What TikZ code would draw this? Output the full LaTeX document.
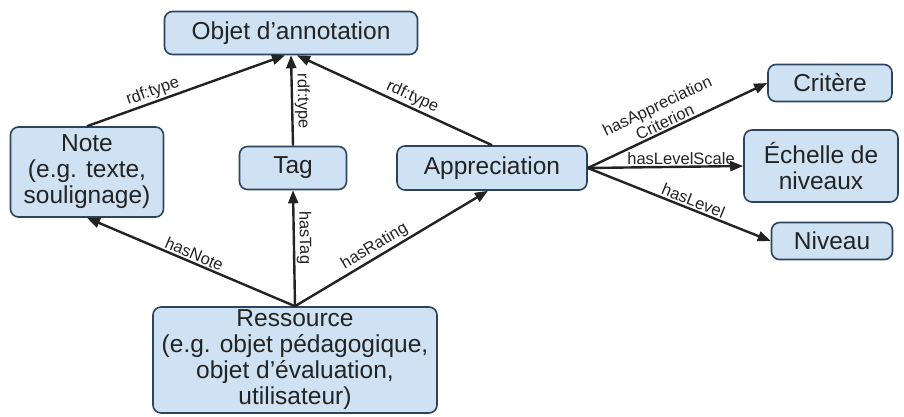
\documentclass[tikz,border=0pt]{standalone}
\usepackage{fontspec}
\setmainfont{Liberation Sans}
\usetikzlibrary{arrows.meta, positioning}
\definecolor{boxfill}{RGB}{207,226,243}
\definecolor{boxline}{RGB}{44,68,94}
\definecolor{txt}{RGB}{35,35,35}
\tikzset{
  box/.style={rectangle, draw=boxline, line width=1.6pt, rounded corners=8pt,
    fill=boxfill, align=center, text=txt, font=\fontsize{24.5}{26}\selectfont, inner sep=1pt},
  lbl/.style={font=\fontsize{16.5}{18}\selectfont, text=txt, inner sep=1.5pt, align=center},
  arr/.style={-{Triangle[length=13pt, width=10pt]}, line width=2.4pt, draw=txt},
}

\begin{document}
\begin{tikzpicture}[x=1pt, y=-1pt]
  \useasboundingbox (0,0) rectangle (904,416);

  \node[box, minimum width=253pt, minimum height=43pt] (objet) at (291,33) {Objet d’annotation};
  \node[box, minimum width=153pt, minimum height=90pt] (note) at (87,172) {Note\\(e.g. texte,\\soulignage)};
  \node[box, minimum width=107pt, minimum height=43pt] (tag) at (293,168) {Tag};
  \node[box, minimum width=190pt, minimum height=44pt] (appr) at (492,168) {Appreciation};
  \node[box, minimum width=284pt, minimum height=106pt] (res) at (295,360) {Ressource\\(e.g. objet pédagogique,\\objet d’évaluation,\\utilisateur)};
  \node[box, minimum width=124pt, minimum height=37pt] (crit) at (830,83) {Critère};
  \node[box, minimum width=154pt, minimum height=72pt] (echelle) at (821,166) {Échelle de\\niveaux};
  \node[box, minimum width=121pt, minimum height=37pt] (niveau) at (832,241) {Niveau};

  % rdf:type links
  \draw[arr] (note.north) -- node[lbl, sloped, above, pos=0.35] {rdf:type} ([xshift=-6pt]objet.south);
  \draw[arr] (tag.north) -- node[lbl, sloped, above, pos=0.49] {rdf:type} (objet.south);
  \draw[arr] (appr.north) -- node[lbl, sloped, above, pos=0.43] {rdf:type} ([xshift=6pt]objet.south);

  % from the resource
  \draw[arr] (res.north) -- node[lbl, sloped, above, pos=0.5] {hasNote} (note.south);
  \draw[arr] (res.north) -- node[lbl, sloped, above, pos=0.59] {hasTag} (tag.south);
  \draw[arr] (res.north) -- node[lbl, sloped, above, pos=0.44] {hasRating} ([xshift=-4pt]appr.south);

  % appreciation properties
  \draw[arr] (appr.east) -- node[lbl, sloped, above, pos=0.45] {hasAppreciation\\Criterion} (crit.west);
  \draw[arr] (appr.east) -- node[lbl, above, pos=0.6, inner sep=0.5pt] {hasLevelScale} (echelle.west);
  \draw[arr] (appr.east) -- node[lbl, sloped, above, pos=0.56] {hasLevel} (niveau.west);
\end{tikzpicture}
\end{document}
